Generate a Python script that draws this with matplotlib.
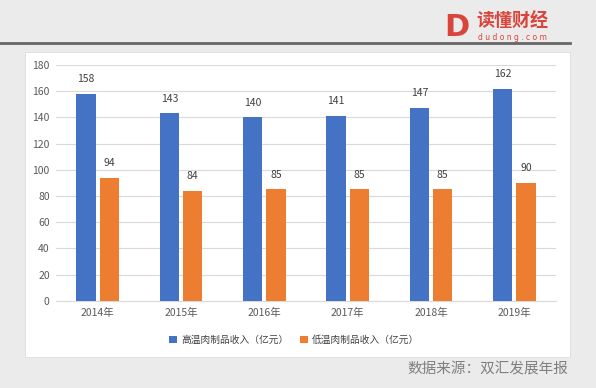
import matplotlib.pyplot as plt
import numpy as np
from matplotlib.patches import Rectangle

plt.rcParams['font.family'] = ['Noto Sans CJK SC', 'DejaVu Sans']

years = ['2014年', '2015年', '2016年', '2017年', '2018年', '2019年']
high_temp = [158, 143, 140, 141, 147, 162]
low_temp = [94, 84, 85, 85, 85, 90]
series_names = ['高温肉制品收入（亿元）', '低温肉制品收入（亿元）']

BLUE = '#4472C4'
ORANGE = '#ED7D31'

fig = plt.figure(figsize=(5.96, 3.88), dpi=100)
fig.patch.set_facecolor('#ebebeb')

W, H = 596.0, 388.0

# white panel
fig.patches.append(Rectangle((25 / W, 1 - 357 / H), 545 / W, 305 / H,
                             transform=fig.transFigure, facecolor='white',
                             edgecolor='#dddddd', lw=0.6, zorder=-10))
# dark rule under the header
fig.add_artist(plt.Line2D([0, 570 / W], [1 - 43 / H, 1 - 43 / H],
                          transform=fig.transFigure, color='#666666', lw=2))

# logo
fig.text(457 / W, 1 - 27 / H, 'D', color='#d9453b', fontsize=22,
         fontweight='bold', ha='center', va='center', family='DejaVu Sans')
fig.text(512 / W, 1 - 21 / H, '读懂财经', color='#d9453b', fontsize=13,
         fontweight='bold', ha='center', va='center')
fig.text(512 / W, 1 - 37 / H, 'd u d o n g . c o m', color='#d9453b',
         fontsize=5.5, ha='center', va='center', family='DejaVu Sans')

ax = fig.add_axes([56 / W, 1 - 300.7 / H, 500 / W, 235.7 / H])
ax.set_facecolor('white')

x = np.arange(len(years))
w = 0.23
b1 = ax.bar(x - 0.14, high_temp, w, color=BLUE, label=series_names[0], zorder=3)
b2 = ax.bar(x + 0.14, low_temp, w, color=ORANGE, label=series_names[1], zorder=3)

for bars, vals in ((b1, high_temp), (b2, low_temp)):
    for r, v in zip(bars, vals):
        ax.annotate(str(v), (r.get_x() + r.get_width() / 2, v),
                    xytext=(0, 7), textcoords='offset points',
                    ha='center', va='bottom', fontsize=7.5, color='#404040')

ax.set_xlim(-0.5, len(years) - 0.5)
ax.set_ylim(0, 180)
ax.set_yticks(range(0, 181, 20))
ax.set_xticks(x)
ax.set_xticklabels(years)
ax.tick_params(axis='both', length=0, labelsize=7.5, colors='#595959')
ax.tick_params(axis='y', pad=4.5)
ax.tick_params(axis='x', pad=5)
ax.grid(axis='y', color='#d9d9d9', lw=0.8, zorder=0)
for s in ['top', 'right', 'left']:
    ax.spines[s].set_visible(False)
ax.spines['bottom'].set_color('#d9d9d9')

fig.legend(loc='center', bbox_to_anchor=(294 / W, 1 - 340 / H), ncol=2,
           frameon=False, fontsize=7, handlelength=0.8, handleheight=0.8,
           handletextpad=0.4, columnspacing=1.2, labelcolor='#404040')

fig.text(568 / W, 1 - 370 / H, '数据来源：双汇发展年报', color='#7f7f7f',
         fontsize=10.5, ha='right', va='center')

plt.savefig('out.png', dpi=100, facecolor=fig.get_facecolor())
